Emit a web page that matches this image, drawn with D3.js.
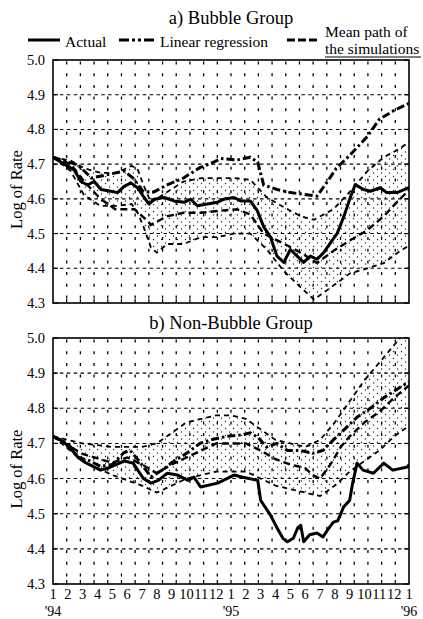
<!DOCTYPE html>
<html lang="en">
<head>
<meta charset="utf-8">
<title>Log of Rate - Bubble / Non-Bubble</title>
<script src="https://d3js.org/d3.v7.min.js"></script>
<style>
  body { margin: 0; background: #fff; }
  svg text { font-family: "Liberation Serif", "Times New Roman", serif; fill: #000; }
  .frame { fill: none; stroke: #000; stroke-width: 1.6px; }
  .vgrid { stroke: #000; stroke-width: 1.3px; stroke-dasharray: 3 8.7; }
  .hgrid { stroke: #000; stroke-width: 1.1px; stroke-dasharray: 3.5 3.4; }
  .actual { fill: none; stroke: #000; stroke-width: 3px; stroke-linejoin: round; }
  .regr { fill: none; stroke: #000; stroke-width: 3px; stroke-dasharray: 8 3 2.5 3; }
  .mean { fill: none; stroke: #000; stroke-width: 2.4px; stroke-dasharray: 7 4; }
  .band { fill: none; stroke: #000; stroke-width: 1.8px; stroke-dasharray: 5 4; }
</style>
</head>
<body>
<svg width="423" height="619"></svg>
<script>
// x values are months since Jan '94 (0 .. 24)
var monthLabels = ["1","2","3","4","5","6","7","8","9","10","11","12",
                   "1","2","3","4","5","6","7","8","9","10","11","12","1"];
var yearLabels = [[0, "'94"], [12, "'95"], [24, "'96"]];
var yTicks = [4.3, 4.4, 4.5, 4.6, 4.7, 4.8, 4.9, 5.0];

// a) Bubble group
var topActual = [[0,4.72],[0.76,4.70],[1.43,4.683],[1.88,4.65],[2.33,4.64],[2.78,4.65],[3.23,4.627],
  [3.9,4.622],[4.35,4.618],[4.8,4.636],[5.25,4.646],[5.7,4.632],[6.14,4.604],[6.48,4.585],[6.82,4.599],
  [7.49,4.604],[8.16,4.594],[8.83,4.59],[9.28,4.599],[9.73,4.58],[10.4,4.585],[11.08,4.59],[11.52,4.599],
  [12.2,4.604],[12.65,4.594],[13.3,4.594],[13.77,4.566],[14.2,4.52],[14.66,4.49],[15.1,4.435],[15.56,4.417],
  [16,4.454],[16.46,4.435],[16.9,4.417],[17.35,4.435],[17.8,4.426],[18.25,4.445],[18.7,4.473],[19.15,4.50],
  [19.6,4.548],[20.04,4.604],[20.38,4.641],[20.94,4.627],[21.4,4.622],[22.06,4.632],[22.5,4.618],
  [23.18,4.618],[24,4.632]];
var topRegr = [[0,4.72],[1.7,4.697],[2.6,4.66],[3.7,4.67],[4.8,4.68],[5.4,4.66],[6.1,4.62],[6.8,4.62],
  [7.7,4.64],[8.8,4.66],[9.9,4.69],[10.8,4.705],[11.3,4.716],[12.4,4.712],[13.3,4.72],[13.8,4.706],
  [14.2,4.64],[15.1,4.627],[16,4.618],[16.9,4.613],[17.8,4.608],[18.5,4.65],[19.1,4.688],[20,4.725],
  [21.2,4.78],[22,4.829],[23,4.855],[24,4.875]];
var topMean = [[0,4.72],[1.2,4.70],[2.1,4.65],[3.2,4.60],[4.2,4.57],[5.5,4.57],[6.4,4.535],[6.6,4.525],
  [7.7,4.55],[8.8,4.56],[10,4.56],[11.1,4.565],[12.4,4.57],[13.3,4.555],[14.2,4.50],[15.6,4.47],
  [16.7,4.445],[17.8,4.415],[18.9,4.45],[20,4.48],[21.2,4.51],[22.3,4.55],[23.4,4.60],[24,4.625]];
// [month, upper, lower] of the simulation band
var topBand = [[0,4.72,4.72],[1.2,4.71,4.68],[2.1,4.688,4.61],[3.2,4.675,4.58],[4.3,4.675,4.58],
  [5.3,4.695,4.585],[5.7,4.686,4.56],[6.1,4.64,4.52],[6.6,4.59,4.46],[7.0,4.60,4.445],[7.7,4.62,4.47],
  [8.8,4.65,4.47],[10,4.66,4.49],[11.1,4.66,4.49],[12.2,4.66,4.50],[13.3,4.655,4.50],[14.4,4.605,4.455],
  [15.6,4.575,4.39],[16.7,4.55,4.345],[17.6,4.54,4.31],[18.9,4.57,4.35],[20,4.62,4.385],[21.2,4.68,4.40],
  [22.3,4.72,4.415],[23.4,4.745,4.45],[24,4.765,4.465]];

// b) Non-bubble group
var botActual = [[0,4.72],[0.5,4.71],[1.1,4.69],[1.7,4.66],[2.2,4.645],[3.2,4.624],[3.7,4.63],[4.8,4.65],
  [5.4,4.644],[6.1,4.60],[6.6,4.587],[7.1,4.595],[7.7,4.615],[8.4,4.61],[9.1,4.595],[9.5,4.604],
  [9.95,4.576],[11.1,4.587],[12.2,4.61],[12.8,4.604],[13.8,4.595],[14.0,4.538],[14.66,4.496],[15.1,4.46],
  [15.5,4.43],[15.8,4.42],[16.2,4.43],[16.5,4.46],[16.7,4.467],[16.9,4.42],[17.3,4.44],[17.8,4.445],
  [18.2,4.434],[18.5,4.453],[18.9,4.476],[19.2,4.48],[19.6,4.52],[20.0,4.538],[20.2,4.587],[20.5,4.644],
  [20.9,4.624],[21.6,4.615],[22.3,4.644],[22.9,4.624],[23.9,4.633],[24,4.64]];
var botRegr = [[0,4.72],[1,4.70],[1.7,4.66],[2.5,4.65],[3.2,4.635],[4,4.64],[4.8,4.675],[5.2,4.68],
  [5.8,4.65],[6.6,4.605],[7.4,4.625],[8,4.645],[9,4.672],[9.9,4.70],[10.8,4.712],[11.7,4.72],[12.8,4.725],
  [13.3,4.73],[13.8,4.718],[14.4,4.69],[15.1,4.70],[15.8,4.68],[16.7,4.68],[17.5,4.672],[18.2,4.68],
  [18.9,4.71],[19.6,4.738],[20.5,4.775],[21.4,4.80],[22.3,4.83],[23.4,4.86],[24,4.875]];
var botMean = [[0,4.72],[2,4.67],[4,4.645],[5,4.66],[6,4.64],[7,4.615],[8,4.64],[9,4.66],[10,4.68],
  [11,4.70],[12,4.70],[13,4.70],[14,4.68],[15,4.655],[16,4.64],[17,4.63],[17.5,4.61],[18,4.60],
  [18.7,4.64],[19.4,4.69],[20,4.72],[21,4.76],[22,4.79],[23,4.83],[24,4.865]];
var botBand = [[0,4.72,4.72],[2,4.70,4.65],[4,4.69,4.61],[6,4.69,4.58],[7,4.70,4.56],[8,4.73,4.58],
  [9,4.76,4.60],[10,4.77,4.61],[11,4.78,4.62],[12,4.78,4.62],[13,4.77,4.62],[14,4.74,4.60],[15,4.71,4.58],
  [16,4.70,4.57],[17,4.69,4.56],[18,4.71,4.55],[19,4.76,4.58],[20,4.82,4.62],[21,4.88,4.65],
  [22,4.93,4.68],[23,4.98,4.72],[24,5.03,4.75]];

var panels = [
  {title: "a) Bubble Group", titleY: 24, top: 60, bottom: 303,
   actual: topActual, regr: topRegr, mean: topMean, band: topBand, xLabels: false},
  {title: "b) Non-Bubble Group", titleY: 329, top: 338, bottom: 584,
   actual: botActual, regr: botRegr, mean: botMean, band: botBand, xLabels: true}
];

var left = 53, right = 409;
var svg = d3.select("svg");
var x = d3.scaleLinear().domain([0, 24]).range([left, right]);

var defs = svg.append("defs");
var pat = defs.append("pattern")
    .attr("id", "stipple")
    .attr("patternUnits", "userSpaceOnUse")
    .attr("width", 8).attr("height", 7);
pat.append("circle").attr("cx", 1.5).attr("cy", 1.5).attr("r", 0.7).attr("fill", "#222");
pat.append("circle").attr("cx", 5.5).attr("cy", 5).attr("r", 0.7).attr("fill", "#222");

panels.forEach(function(p, pi) {
  var y = d3.scaleLinear().domain([4.3, 5.0]).range([p.bottom, p.top]);
  var g = svg.append("g");

  defs.append("clipPath").attr("id", "clip" + pi)
    .append("rect")
      .attr("x", left).attr("y", p.top)
      .attr("width", right - left).attr("height", p.bottom - p.top);

  g.append("text")
    .attr("x", 231).attr("y", p.titleY)
    .attr("text-anchor", "middle")
    .style("font-size", "18.5px")
    .text(p.title);

  // grid: vertical dotted every 1/26 of the range, horizontal dashed every 0.1
  var vpos = d3.range(1, 26).map(function(i) { return 24 * i / 26; });
  g.append("g").selectAll("line").data(vpos).enter().append("line")
    .attr("class", "vgrid")
    .attr("x1", function(d) { return x(d); })
    .attr("x2", function(d) { return x(d); })
    .attr("y1", p.top).attr("y2", p.bottom)
    .attr("stroke-dashoffset", -1.5);
  g.append("g").selectAll("line").data(yTicks.slice(1, -1)).enter().append("line")
    .attr("class", "hgrid")
    .attr("x1", left).attr("x2", right)
    .attr("y1", function(d) { return y(d); })
    .attr("y2", function(d) { return y(d); });

  // ticks on the inside of the frame
  g.append("g").selectAll("line").data(yTicks).enter().append("line")
    .attr("x1", left).attr("x2", left + 5)
    .attr("y1", function(d) { return y(d); }).attr("y2", function(d) { return y(d); })
    .attr("stroke", "#000").attr("stroke-width", 1.2);
  g.append("g").selectAll("line").data(yTicks).enter().append("line")
    .attr("x1", right - 5).attr("x2", right)
    .attr("y1", function(d) { return y(d); }).attr("y2", function(d) { return y(d); })
    .attr("stroke", "#000").attr("stroke-width", 1.2);
  g.append("g").selectAll("line").data(vpos).enter().append("line")
    .attr("x1", function(d) { return x(d); }).attr("x2", function(d) { return x(d); })
    .attr("y1", p.bottom - 4).attr("y2", p.bottom)
    .attr("stroke", "#000").attr("stroke-width", 1.2);

  // y tick labels
  g.append("g").selectAll("text").data(yTicks).enter().append("text")
    .attr("x", 45)
    .attr("y", function(d) { return y(d) + 5; })
    .attr("text-anchor", "end")
    .style("font-size", "14.5px")
    .text(function(d) { return d.toFixed(1); });

  g.append("text")
    .attr("transform", "translate(22," + ((p.top + p.bottom) / 2 + 8) + ") rotate(-90)")
    .attr("text-anchor", "middle")
    .style("font-size", "16.5px")
    .text("Log of Rate");

  var plot = g.append("g").attr("clip-path", "url(#clip" + pi + ")");

  var area = d3.area()
    .x(function(d) { return x(d[0]); })
    .y0(function(d) { return y(d[2]); })
    .y1(function(d) { return y(d[1]); });
  plot.append("path").datum(p.band)
    .attr("d", area)
    .attr("fill", "url(#stipple)");

  var line = d3.line()
    .x(function(d) { return x(d[0]); })
    .y(function(d) { return y(d[1]); });
  var lower = d3.line()
    .x(function(d) { return x(d[0]); })
    .y(function(d) { return y(d[2]); });

  plot.append("path").datum(p.band).attr("class", "band").attr("d", line);
  plot.append("path").datum(p.band).attr("class", "band").attr("d", lower);
  plot.append("path").datum(p.mean).attr("class", "mean").attr("d", line);
  plot.append("path").datum(p.regr).attr("class", "regr").attr("d", line);
  plot.append("path").datum(p.actual).attr("class", "actual").attr("d", line);

  g.append("rect").attr("class", "frame")
    .attr("x", left).attr("y", p.top)
    .attr("width", right - left).attr("height", p.bottom - p.top);

  if (p.xLabels) {
    g.append("g").selectAll("text").data(monthLabels).enter().append("text")
      .attr("x", function(d, i) { return x(i); })
      .attr("y", p.bottom + 15)
      .attr("text-anchor", "middle")
      .style("font-size", "14.5px")
      .text(function(d) { return d; });
    g.append("g").selectAll("text").data(yearLabels).enter().append("text")
      .attr("x", function(d) { return x(d[0]); })
      .attr("y", p.bottom + 32)
      .attr("text-anchor", "middle")
      .style("font-size", "14px")
      .text(function(d) { return d[1]; });
  }
});

// legend
var leg = svg.append("g");
leg.append("line").attr("x1", 28).attr("x2", 60).attr("y1", 40).attr("y2", 40)
  .attr("stroke", "#000").attr("stroke-width", 3);
leg.append("text").attr("x", 65).attr("y", 47).style("font-size", "15.5px").text("Actual");
leg.append("line").attr("x1", 119).attr("x2", 157).attr("y1", 40).attr("y2", 40)
  .attr("stroke", "#000").attr("stroke-width", 3).attr("stroke-dasharray", "10 3 3 3 3 3");
leg.append("text").attr("x", 160).attr("y", 47).style("font-size", "15.5px").text("Linear regression");
leg.append("line").attr("x1", 287).attr("x2", 320).attr("y1", 40).attr("y2", 40)
  .attr("stroke", "#000").attr("stroke-width", 3).attr("stroke-dasharray", "8 3");
leg.append("text").attr("x", 325).attr("y", 37).style("font-size", "15.5px").text("Mean path of");
leg.append("text").attr("x", 325).attr("y", 54).style("font-size", "15.5px").text("the simulations");
leg.append("line").attr("x1", 325).attr("x2", 421).attr("y1", 57).attr("y2", 57)
  .attr("stroke", "#000").attr("stroke-width", 1);
</script>
</body>
</html>
